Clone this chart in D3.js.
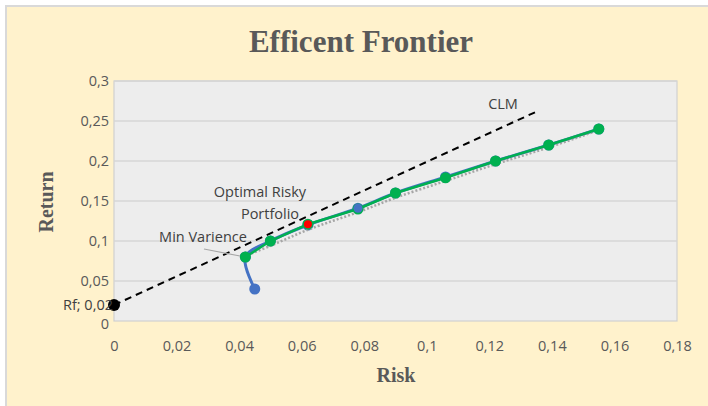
<!DOCTYPE html>
<html><head><meta charset="utf-8">
<script src="https://cdn.jsdelivr.net/npm/d3@7"></script>
<style>
html,body{margin:0;padding:0;background:#fff;}
svg{display:block;}
</style></head>
<body>
<svg id="c" width="708" height="406"></svg>
<script>
// Data
const xTicks = [0,0.02,0.04,0.06,0.08,0.1,0.12,0.14,0.16,0.18];
const yTicks = [0,0.05,0.1,0.15,0.2,0.25,0.3];
// Blue series: full minimum-variance set
const blueRisk   = [0.045,0.042,0.050,0.062,0.078,0.090,0.106,0.122,0.139,0.155];
const blueReturn = [0.040,0.080,0.100,0.120,0.141,0.160,0.180,0.200,0.220,0.240];
// Green series: efficient frontier
const greenRisk   = [0.042,0.050,0.062,0.078,0.090,0.106,0.122,0.139,0.155];
const greenReturn = [0.080,0.100,0.121,0.140,0.160,0.179,0.200,0.220,0.240];
// Gray dotted trend
const trendRisk   = [0.040,0.050,0.062,0.078,0.090,0.106,0.122,0.139,0.156];
const trendReturn = [0.081,0.097,0.117,0.139,0.157,0.178,0.199,0.220,0.243];
// Capital line
const clmRisk   = [0, 0.1355];
const clmReturn = [0.02, 0.2625];
const rf = {risk:0, ret:0.02, label:"Rf; 0,02"};
const optimal = {risk:0.062, ret:0.121};
const blueHighlight = {risk:0.078, ret:0.141};

const svg = d3.select("#c");
// frame
svg.append("rect").attr("x",6).attr("y",6).attr("width",720).attr("height",420)
  .attr("fill","#FFF2CC").attr("stroke","#D9D9D9").attr("stroke-width",2);

const L=114, R=677, T=81, B=321;
const x = d3.scaleLinear().domain([0,0.18]).range([L,R]);
const y = d3.scaleLinear().domain([0,0.3]).range([B,T]);
const fmt = d => String(+d.toFixed(2)).replace(".",",");

svg.append("rect").attr("x",L).attr("y",T).attr("width",R-L).attr("height",B-T)
  .attr("fill","#EDEDED").attr("stroke","#D0D0D0").attr("stroke-width",1.2);

// gridlines
svg.append("g").selectAll("line").data(yTicks.slice(1)).join("line")
  .attr("x1",L).attr("x2",R).attr("y1",d=>y(d)).attr("y2",d=>y(d))
  .attr("stroke","#D6D6D6").attr("stroke-width",1.5);

// axes
const tickFont = "'Open Sans', 'Liberation Sans', sans-serif";
const xa = svg.append("g").attr("transform",`translate(0,${B})`)
  .call(d3.axisBottom(x).tickValues(xTicks).tickFormat(fmt).tickSize(0).tickPadding(20));
const ya = svg.append("g").attr("transform",`translate(${L},0)`)
  .call(d3.axisLeft(y).tickValues(yTicks).tickFormat(fmt).tickSize(0).tickPadding(5));
[xa,ya].forEach(a=>{
  a.select(".domain").remove();
  a.selectAll("text").attr("fill","#595959").style("font-family",tickFont).style("font-size","14.5px");
});
ya.selectAll("text").filter(d=>d===0).attr("dy","0.55em");

// CLM dashed
const line = d3.line().x(d=>x(d[0])).y(d=>y(d[1]));
svg.append("path").datum(clmRisk.map((r,i)=>[r,clmReturn[i]]))
  .attr("d",line).attr("fill","none").attr("stroke","#000").attr("stroke-width",2)
  .attr("stroke-dasharray","7,5");

// blue series
const curve = d3.line().x(d=>x(d[0])).y(d=>y(d[1])).curve(d3.curveCatmullRom.alpha(0.5));
svg.append("path").datum(blueRisk.map((r,i)=>[r,blueReturn[i]]))
  .attr("d",curve).attr("fill","none").attr("stroke","#4472C4").attr("stroke-width",3);
svg.append("g").selectAll("circle").data(blueRisk.map((r,i)=>[r,blueReturn[i]])).join("circle")
  .attr("cx",d=>x(d[0])).attr("cy",d=>y(d[1])).attr("r",5.5).attr("fill","#4472C4");

// gray dotted trend
svg.append("path").datum(trendRisk.map((r,i)=>[r,trendReturn[i]]))
  .attr("d",curve).attr("fill","none").attr("stroke","#A6A6A6").attr("stroke-width",2.5)
  .attr("stroke-dasharray","2,2").attr("transform","translate(1,2)");

// green series
svg.append("path").datum(greenRisk.map((r,i)=>[r,greenReturn[i]]))
  .attr("d",line).attr("fill","none").attr("stroke","#00B050").attr("stroke-width",2.5);
svg.append("g").selectAll("circle").data(greenRisk.map((r,i)=>[r,greenReturn[i]])).join("circle")
  .attr("cx",d=>x(d[0])).attr("cy",d=>y(d[1])).attr("r",5.5).attr("fill","#00B050");

// highlights
svg.append("circle").attr("cx",x(blueHighlight.risk)).attr("cy",y(blueHighlight.ret)).attr("r",4.5).attr("fill","#4472C4");
svg.append("circle").attr("cx",x(optimal.risk)).attr("cy",y(optimal.ret)).attr("r",4).attr("fill","#FF0000");

// Rf point
svg.append("circle").attr("cx",x(rf.risk)).attr("cy",y(rf.ret)).attr("r",6).attr("fill","#000");

// labels
const lab = (t,xx,yy,anchor="middle") => svg.append("text").attr("x",xx).attr("y",yy)
  .attr("text-anchor",anchor).attr("fill","#404040")
  .style("font-family",tickFont).style("font-size","14.5px").text(t);
lab(rf.label, x(rf.risk)-1, y(rf.ret)+5, "end");
lab("CLM", 503, 109);
lab("Optimal Risky", 260, 197);
lab("Portfolio", 270, 219);
lab("Min Varience", 203, 242);
svg.append("line").attr("x1",204).attr("y1",249).attr("x2",240).attr("y2",256)
  .attr("stroke","#A6A6A6").attr("stroke-width",1.2);

// titles
svg.append("text").attr("x",361).attr("y",52).attr("text-anchor","middle")
  .attr("fill","#595959").style("font-family","'Liberation Serif','Times New Roman',serif")
  .style("font-weight","bold").style("font-size","31px").text("Efficent Frontier");
svg.append("text").attr("x",396).attr("y",382).attr("text-anchor","middle")
  .attr("fill","#595959").style("font-family","'Liberation Serif','Times New Roman',serif")
  .style("font-weight","bold").style("font-size","20px").text("Risk");
svg.append("text").attr("transform","translate(53,202) rotate(-90)").attr("text-anchor","middle")
  .attr("fill","#595959").style("font-family","'Liberation Serif','Times New Roman',serif")
  .style("font-weight","bold").style("font-size","20px").text("Return");
</script>
</body></html>
